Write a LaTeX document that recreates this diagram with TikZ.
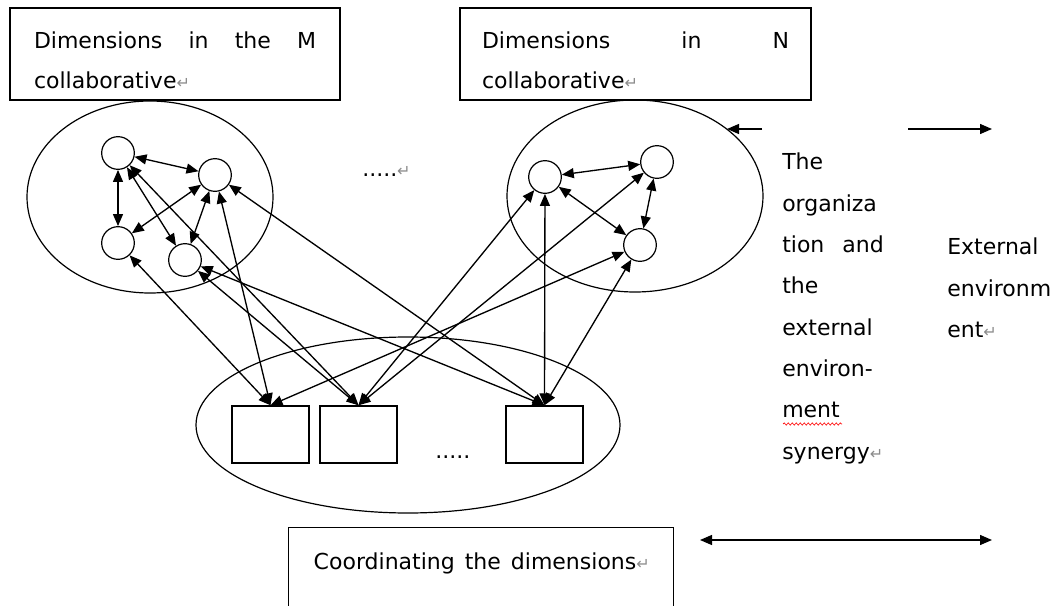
\documentclass[tikz,border=0pt]{standalone}
\usepackage{fontspec}
\setmainfont{DejaVu Sans}
\usetikzlibrary{arrows.meta,shapes.geometric,decorations.pathmorphing}
\colorlet{retx}{black!45}
\newcommand\parmark{{\color{retx}\fontsize{12pt}{12pt}\selectfont ↵}}
\tikzset{
    dimn/.style={draw,circle,line width=0.9pt,inner sep=0pt,minimum size=24.5pt},
    unitbox/.style={draw,line width=1.1pt,inner sep=0pt,minimum width=57.75pt,minimum height=42.75pt},
    group/.style={draw,ellipse,line width=0.9pt,inner sep=0pt},
    titlebox/.style={draw,line width=1.1pt,inner ysep=0pt,minimum height=69pt,
        font=\fontsize{16.5pt}{30pt}\selectfont},
    side/.style={font=\fontsize{16.5pt}{31pt}\selectfont,align=left,inner sep=0pt,anchor=north west},
    link/.style={line width=1pt,{Triangle[length=9pt,width=7.5pt]}-{Triangle[length=9pt,width=7.5pt]}},
    onearrow/.style={line width=1pt,-{Triangle[length=9pt,width=7.5pt]}}
}

\begin{document}
\begin{tikzpicture}[x=0.75pt,y=-0.75pt]
    \useasboundingbox (0,0) rectangle (1057,606);
    \clip (0,0) rectangle (1057,606);
    % the two collaborative titles
    \node [titlebox,text width=211.5pt,inner xsep=18pt] (titleM) at (175,54)
        {\rule{0pt}{22pt}Dimensions\hfill in\hfill the\hfill M\\collaborative\parmark};
    \node [titlebox,text width=230.25pt,inner xsep=16.5pt] (titleN) at (635.5,54)
        {\rule{0pt}{22pt}Dimensions\hfill in\hfill N\\collaborative\parmark};
    % groups
    \node [group,minimum width=184.5pt,minimum height=144pt] (grpM) at (150,197) {};
    \node [group,minimum width=192pt,minimum height=144pt] (grpN) at (635,196) {};
    \node [group,minimum width=318pt,minimum height=132pt] (grpU) at (408,425) {};
    % dimensions of M and N
    \node [dimn] (A) at (118,153) {};
    \node [dimn] (B) at (215,175) {};
    \node [dimn] (C) at (118,243) {};
    \node [dimn] (D) at (185,260) {};
    \node [dimn] (E) at (545,177) {};
    \node [dimn] (F) at (657,162) {};
    \node [dimn] (G) at (640,245) {};
    % coordinated units
    \node [unitbox] (U1) at (270.5,434.5) {};
    \node [unitbox] (U2) at (358.5,434.5) {};
    \node [unitbox] (U3) at (544.5,434.5) {};
    \node [anchor=base west,inner sep=0pt,font=\fontsize{16.5pt}{20pt}\selectfont] (dotsT) at (362,177) {.....\parmark};
    \node [anchor=base west,inner sep=0pt,font=\fontsize{16.5pt}{20pt}\selectfont] (dotsB) at (435,458) {.....};
    % links
    \foreach \a/\b in {A/B,A/C,A/D,C/B,D/B,E/F,E/G,G/F}
        \draw [link] (\a) -- (\b);
    \foreach \a/\b in {A/U2,B/U1,B/U3,C/U1,D/U2,D/U3,E/U2,E/U3,F/U2,G/U1,G/U3}
        \draw [link] (\a) -- (\b.north);
    % environment side
    \node [side] (syn) at (782,153)
        {The\\organiza\\tion\hspace{13.5pt}and\\the\\external\\environ-\\ment\\synergy\parmark};
    \node [side] (ext) at (947,238) {External\\environm\\ent\parmark};
    \draw [red,line width=0.5pt,decorate,decoration={snake,amplitude=0.8pt,segment length=3pt}]
        (783,424) -- (842,424);
    \node [draw,line width=1.1pt,anchor=north west,inner xsep=18.75pt,inner ysep=0pt,
        text width=251.25pt,text height=31.5pt,text depth=60pt,
        font=\fontsize{16.5pt}{20pt}\selectfont] (coord) at (288,527)
        {\mbox{Coordinating\hspace{2pt} the\hspace{2pt} dimensions\parmark}};
    \coordinate (synA) at (762,129);
    \coordinate (synB) at (727,129);
    \coordinate (extA) at (908,129);
    \coordinate (extB) at (992,129);
    \coordinate (cooA) at (700,540);
    \coordinate (cooB) at (992,540);
    \draw [onearrow] (synA) -- (synB);
    \draw [onearrow] (extA) -- (extB);
    \draw [link] (cooA) -- (cooB);
\end{tikzpicture}
\end{document}
